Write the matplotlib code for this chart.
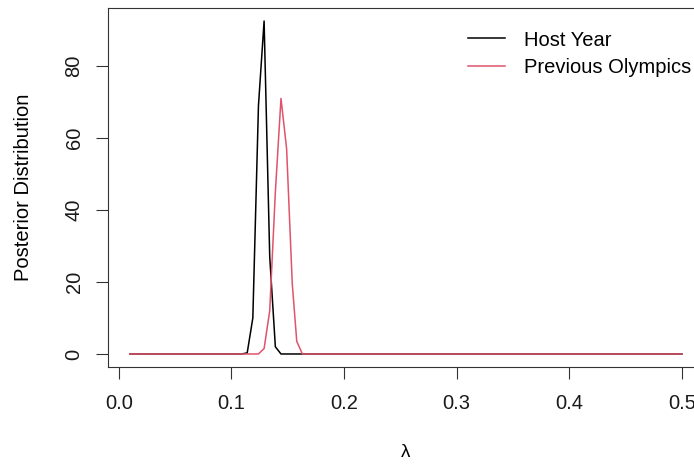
import matplotlib.pyplot as plt

plt.rcParams['font.family'] = ['Liberation Sans', 'DejaVu Sans']

# === Werte ===
lam = [0.010, 0.109, 0.114, 0.119, 0.124, 0.129, 0.134, 0.139,
       0.144, 0.149, 0.154, 0.158, 0.163, 0.168, 0.500]
host_year = [0, 0, 0.3, 10, 69, 92.5, 27, 2, 0, 0, 0, 0, 0, 0, 0]
prev_olympics = [0, 0, 0, 0, 0, 1.5, 12, 45, 71, 57, 19.6, 3.5, 0, 0, 0]

xticks = [0.0, 0.1, 0.2, 0.3, 0.4, 0.5]
yticks = [0, 20, 40, 60, 80]

FS = 14.5
W, H = 694, 465
fig = plt.figure(figsize=(W / 100, H / 100), dpi=100)
# Plotbereich wie in R (rechts abgeschnitten)
ax = fig.add_axes([108 / W, 1 - 367.3 / H, 596 / W, 359.6 / H])

ax.plot(lam, host_year, color='black', lw=1.1, label='Host Year')
ax.plot(lam, prev_olympics, color='#DF536B', lw=1.1, label='Previous Olympics')

# R-Stil: 4% Rand
xr = max(lam) - min(lam)
ax.set_xlim(min(lam) - 0.04 * xr, max(lam) + 0.04 * xr)
ymax = max(max(host_year), max(prev_olympics))
ax.set_ylim(-0.04 * ymax, ymax * 1.04)

ax.set_xticks(xticks)
ax.set_xticklabels([f"{t:.1f}" for t in xticks])
ax.set_yticks(yticks)
ax.set_yticklabels([str(t) for t in yticks], rotation=90, va='center')

ax.tick_params(direction='out', length=8.6, width=0.8, labelsize=FS,
               colors='#333333', labelcolor='#1a1a1a')
ax.tick_params(axis='x', pad=10.5)
ax.tick_params(axis='y', pad=9)

for s in ax.spines.values():
    s.set_linewidth(0.8)
    s.set_color('#333333')

ax.set_xlabel('λ', fontsize=FS - 1)
ax.set_ylabel('Posterior Distribution', fontsize=FS)
ax.xaxis.set_label_coords(0.5, -0.238)
ax.xaxis.label.set_va('center')
ax.yaxis.set_label_coords(-0.142, 0.5)
ax.yaxis.label.set_va('center')

ax.legend(loc='upper left', bbox_to_anchor=((468 - 108) / 596, (367.3 - 30.5) / 359.6),
          frameon=False, fontsize=FS, handlelength=1.84, handletextpad=0.95,
          labelspacing=0.44, borderpad=0, borderaxespad=0)

plt.savefig('out.png', dpi=100)
